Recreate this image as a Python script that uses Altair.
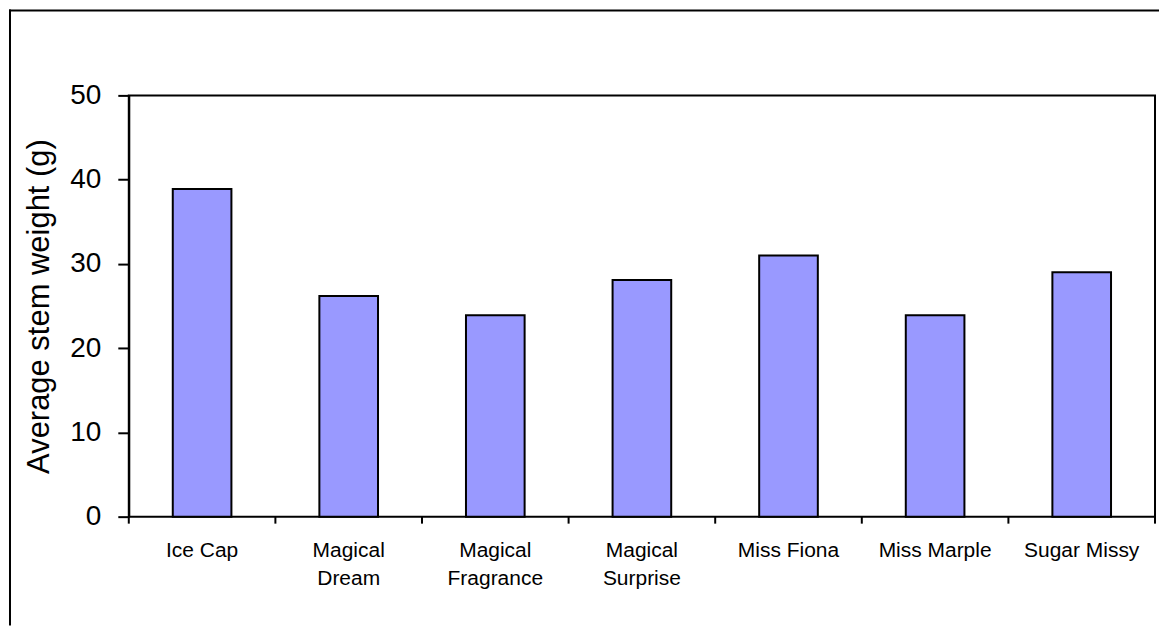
import altair as alt
import pandas as pd

categories = ["Ice Cap", "Magical Dream", "Magical Fragrance", "Magical Surprise",
              "Miss Fiona", "Miss Marple", "Sugar Missy"]
weights = [38.9, 26.2, 23.9, 28.1, 31.0, 23.9, 29.0]
y_ticks = [0, 10, 20, 30, 40, 50]

FONT = "Liberation Sans, Arial, sans-serif"
W, H = 1028, 422

df = pd.DataFrame({"cat": categories, "val": weights})
one = pd.DataFrame({"k": [0]})

xscale = alt.Scale(paddingInner=0, paddingOuter=0)
x_axis = alt.Axis(labelAngle=0, labelFontSize=21, labelFont=FONT, labelColor="black",
                  labelBaseline="top", labelLineHeight=28, labelPadding=16,
                  tickSize=7, tickOpacity=0, domain=False, title=None,
                  labelExpr="indexof(datum.label,'Magical')==0 ? split(datum.label,' ') : datum.label")

bars = alt.Chart(df).mark_bar(
    width=alt.RelativeBandSize(0.4), color="#9999FF", stroke="black", strokeWidth=2
).encode(
    x=alt.X("cat:N", sort=categories, scale=xscale, title=None, axis=x_axis),
    y=alt.Y("val:Q", scale=alt.Scale(domain=[0, 50], nice=False),
            title="Average stem weight (g)",
            axis=alt.Axis(values=y_ticks, grid=False, tickSize=11, tickColor="black", tickWidth=2,
                          domainColor="black", domainWidth=2, labelFontSize=28, labelFont=FONT,
                          labelColor="black", labelPadding=17, titleFontSize=31, titleFont=FONT,
                          titleFontWeight="normal", titleColor="black", titlePadding=14)),
)

xticks = alt.Chart(df).mark_rule(color="black", strokeWidth=2).encode(
    x=alt.X("cat:N", sort=categories, scale=xscale, bandPosition=0, title=None, axis=x_axis),
    y=alt.value(H), y2=alt.value(H + 7),
)
last_tick = alt.Chart(one).mark_rule(color="black", strokeWidth=2).encode(
    x=alt.value(W), y=alt.value(H), y2=alt.value(H + 7)
)

border_top = alt.Chart(one).mark_rule(color="black", strokeWidth=2).encode(
    x=alt.value(-120), x2=alt.value(1032), y=alt.value(-85)
)
border_left = alt.Chart(one).mark_rule(color="black", strokeWidth=2).encode(
    x=alt.value(-119), y=alt.value(-86), y2=alt.value(531)
)

chart = alt.layer(bars, xticks, last_tick, border_top, border_left).properties(
    width=W, height=H, padding=0, background="white"
).configure_view(stroke="black", strokeWidth=2)

chart.save("out.html", embed_options={"renderer": "svg", "actions": False})
